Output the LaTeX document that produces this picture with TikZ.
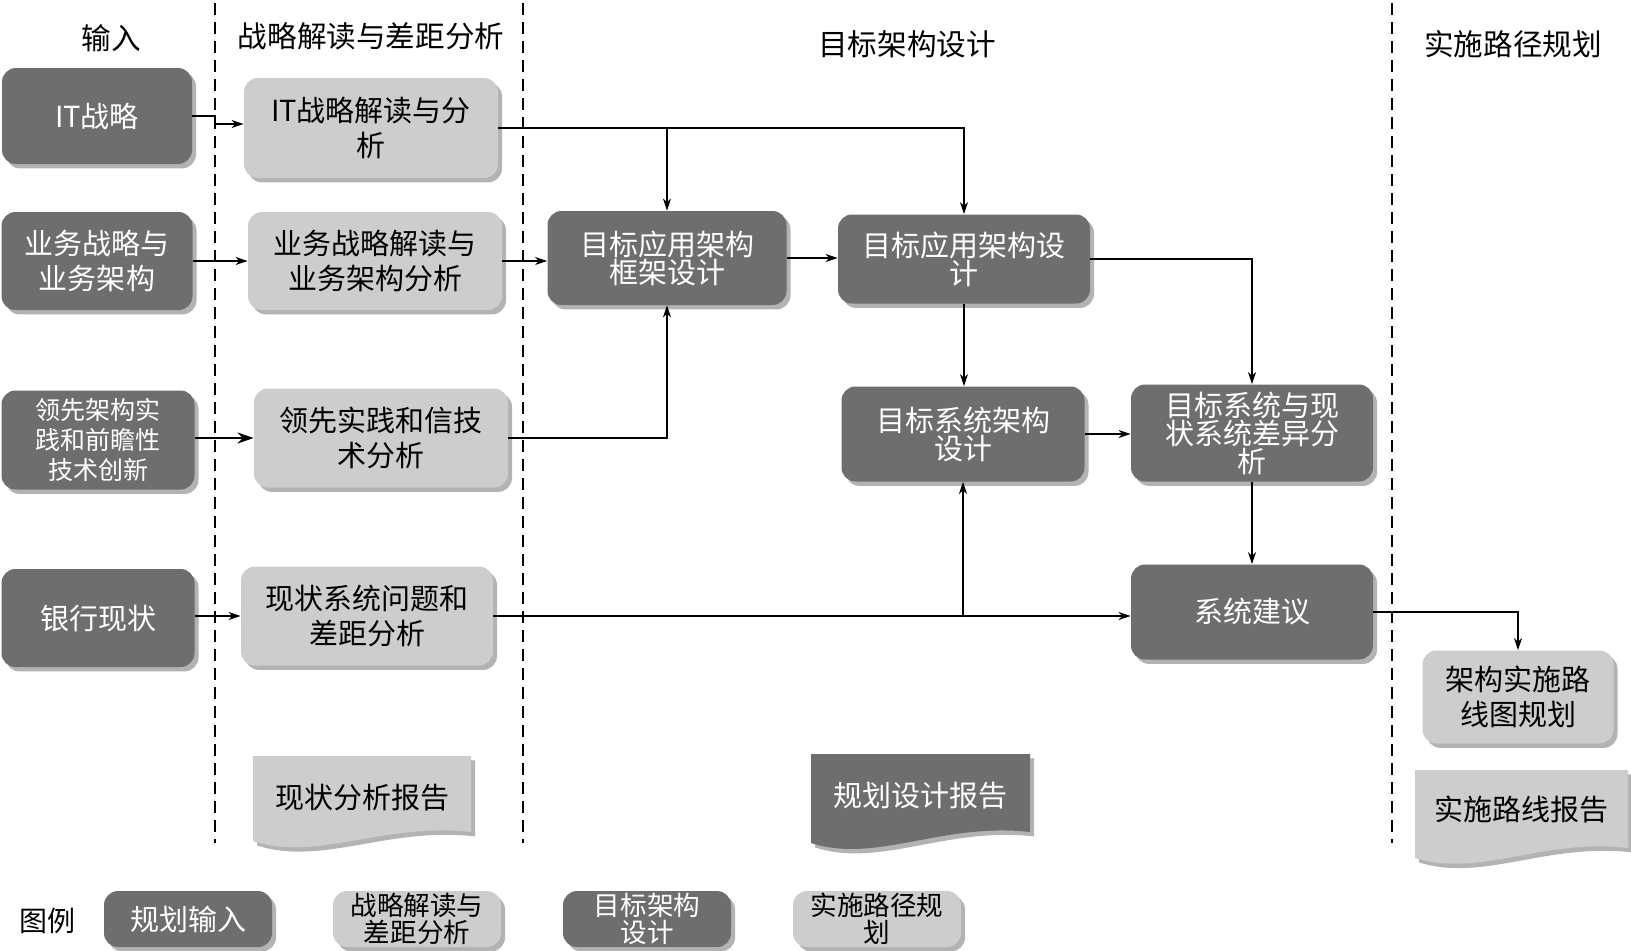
\documentclass[tikz,border=0pt]{standalone}
\usepackage{fontspec}
\setmainfont{Noto Sans CJK SC}
\usetikzlibrary{shadows,arrows.meta,calc}
\definecolor{darkbox}{RGB}{110,110,110}
\definecolor{lightbox}{RGB}{205,205,205}
\definecolor{shadowc}{RGB}{160,160,160}
\tikzset{
  shad/.style={drop shadow={shadow xshift=2pt,shadow yshift=-2.2pt,fill=shadowc,opacity=0.8}},
  box/.style={rounded corners=7pt, align=center, inner sep=0pt, shad, font=\fontsize{14.5}{17.5}\selectfont},
  darkb/.style={box, fill=darkbox, text=white},
  lightb/.style={box, fill=lightbox, text=black},
  tight/.style={font=\fontsize{14.5}{14}\selectfont},
  legendb/.style={minimum width=84pt, minimum height=28pt, font=\fontsize{13.3}{13.5}\selectfont},
  arr/.style={-{Stealth[length=6pt,width=4pt,inset=1.8pt]}, line width=0.7pt},
  bigarr/.style={-{Stealth[length=8pt,width=5.5pt,inset=2.5pt]}, line width=1pt},
  sepline/.style={dash pattern=on 6pt off 3.5pt, line width=0.7pt},
  hdr/.style={font=\fontsize{14.8}{17}\selectfont},
  docl/.style={fill=lightbox, shad},
  docd/.style={fill=darkbox, shad},
}
\begin{document}
\begin{tikzpicture}[x=0.5pt,y=-0.5pt]
\useasboundingbox (0,0) rectangle (1631,950);
\fill[white] (0,0) rectangle (1631,950);

% separators
\draw[sepline] (215,3) -- (215,843);
\draw[sepline] (523,3) -- (523,843);
\draw[sepline] (1392,3) -- (1392,843);

% headers
\node[hdr] (h1) at (111,38) {输入};
\node[hdr] (h2) at (371,36) {战略解读与差距分析};
\node[hdr] (h3) at (907,44) {目标架构设计};
\node[hdr] (h4) at (1513,44) {实施路径规划};

% inputs
\node[darkb, minimum width=95pt, minimum height=48pt] (in1) at (97,116) {IT战略};
\node[darkb, minimum width=95.5pt, minimum height=49pt] (in2) at (97,261) {业务战略与\\业务架构};
\node[darkb, minimum width=96.5pt, minimum height=49.5pt, font=\fontsize{12.5}{15}\selectfont] (in3) at (98,440) {领先架构实\\践和前瞻性\\技术创新};
\node[darkb, minimum width=96.5pt, minimum height=49pt] (in4) at (98,618) {银行现状};

% analysis
\node[lightb, minimum width=127pt, minimum height=50pt] (a1) at (371,128) {IT战略解读与分\\析};
\node[lightb, minimum width=127pt, minimum height=49pt] (a2) at (375,261) {业务战略解读与\\业务架构分析};
\node[lightb, minimum width=127pt, minimum height=49.5pt] (a3) at (381,438) {领先实践和信技\\术分析};
\node[lightb, minimum width=126pt, minimum height=49.5pt] (a4) at (367,616) {现状系统问题和\\差距分析};

% target
\node[darkb, tight, minimum width=119.5pt, minimum height=47pt] (t1) at (667,258) {目标应用架构\\框架设计};
\node[darkb, tight, minimum width=126pt, minimum height=44.5pt] (t2) at (964,259) {目标应用架构设\\计};
\node[darkb, tight, minimum width=121.5pt, minimum height=47.5pt] (t3) at (963,434) {目标系统架构\\设计};
\node[darkb, tight, minimum width=121pt, minimum height=48.5pt] (t4) at (1252,433) {目标系统与现\\状系统差异分\\析};
\node[darkb, minimum width=121pt, minimum height=47.5pt] (t5) at (1252,612) {系统建议};

% roadmap
\node[lightb, minimum width=95.5pt, minimum height=46.5pt] (r1) at (1518,697) {架构实施路\\线图规划};

% documents
\path[docl] (253,756) -- (471,756) -- (471,832) .. controls (384,822) and (318,862) .. (253,841) -- cycle;
\node[font=\fontsize{14.5}{17}\selectfont] (d1) at (362,798) {现状分析报告};
\path[docd] (811,754) -- (1030,754) -- (1030,832) .. controls (942,822) and (876,864) .. (811,843) -- cycle;
\node[font=\fontsize{14.5}{17}\selectfont, text=white] (d2) at (920,796) {规划设计报告};
\path[docl] (1415,770) -- (1628,770) -- (1628,848) .. controls (1543,838) and (1479,878) .. (1415,858) -- cycle;
\node[font=\fontsize{14.5}{17}\selectfont] (d3) at (1521,809) {实施路线报告};

% legend
\node[font=\fontsize{14}{16}\selectfont] (lg) at (47,921) {图例};
\node[darkb, legendb, font=\fontsize{14.5}{15}\selectfont] (L1) at (188,919) {规划输入};
\node[lightb, legendb] (L2) at (417,919) {战略解读与\\差距分析};
\node[darkb, legendb] (L3) at (647,919) {目标架构\\设计};
\node[lightb, legendb] (L4) at (877,919) {实施路径规\\划};

% connectors
\coordinate (j1) at (215,116);
\draw[arr] (in1.east) -- (j1) |- ($(a1.west)+(0,-4)$);
\draw[arr] (in2.east) -- (in2.east -| a2.west);
\draw[bigarr] (in3.east |- a3.west) -- (a3.west);
\draw[arr] (in4.east |- a4.west) -- (a4.west);

\draw[arr] (a1.east) -| (t2.north);
\draw[arr] (a1.east -| t1.north) -- (t1.north);
\draw[arr] (a2.east) -- (a2.east -| t1.west);
\draw[arr] (a3.east) -| (t1.south);
\draw[arr] (t1.east) -- (t1.east -| t2.west);
\draw[arr] (t2.east) -| (t4.north);
\draw[arr] (t2.south) -- (t2.south |- t3.north);
\draw[arr] (t3.east) -- (t3.east -| t4.west);
\draw[arr] (t4.south) -- (t5.north);
\draw[arr] (a4.east) -- (a4.east -| t5.west);
\draw[arr] (a4.east -| t3.south) -- (t3.south);
\draw[arr] (t5.east) -| (r1.north);
\end{tikzpicture}
\end{document}
